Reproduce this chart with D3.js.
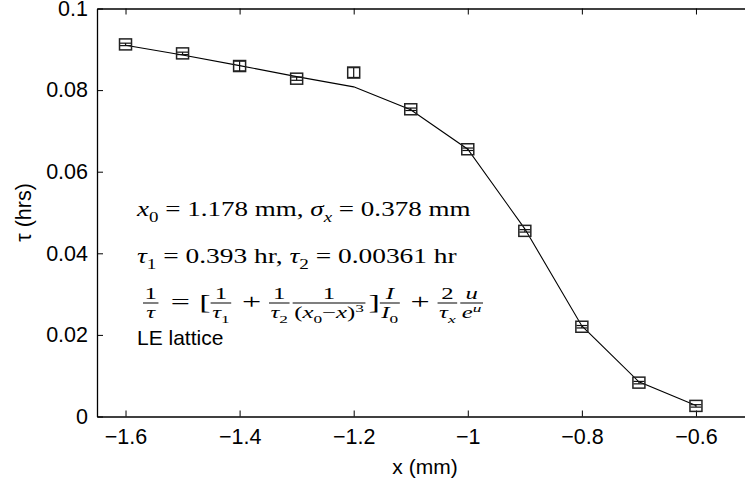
<!DOCTYPE html>
<html>
<head>
<meta charset="utf-8">
<script src="https://cdn.jsdelivr.net/npm/d3@7"></script>
<style>
  body { margin: 0; background: #fff; }
  svg { display: block; }
  text { white-space: pre; }
</style>
</head>
<body>
<script>
// measured tau vs position, with small error bars, plus fitted curve
const xPos    = [-1.6, -1.5, -1.4, -1.3, -1.2, -1.1, -1.0, -0.9, -0.8, -0.7, -0.6];
const tauMeas = [0.0912, 0.0890, 0.0859, 0.0828, 0.0843, 0.0753, 0.0655, 0.0455, 0.0220, 0.0083, 0.0026];
const tauErr  = [0.0003, 0.0003, 0.0012, 0.0004, 0.0012, 0.0003, 0.0003, 0.0003, 0.0003, 0.0003, 0.0003];
const tauFit  = [0.0910, 0.0886, 0.0860, 0.0833, 0.0808, 0.0752, 0.0655, 0.0460, 0.0222, 0.0085, 0.0027];
const xTicks  = [-1.6, -1.4, -1.2, -1, -0.8, -0.6];
const yTicks  = [0, 0.02, 0.04, 0.06, 0.08, 0.1];

const width = 745, height = 484;
const sans = "'Liberation Sans', Arial, Helvetica, sans-serif";
const serif = "'Liberation Serif', 'Times New Roman', serif";

const x = d3.scaleLinear().domain([-1.65, -0.5]).range([97, 753]);
const y = d3.scaleLinear().domain([0, 0.1]).range([416.5, 8.5]);

const svg = d3.select("body").append("svg")
    .attr("width", width)
    .attr("height", height)
    .attr("viewBox", `0 0 ${width} ${height}`);

const fmt = d => String(d).replace("-", "\u2212");

// axes, ticks pointing inward
svg.append("g")
    .attr("transform", `translate(0,${y(0)})`)
    .call(d3.axisBottom(x).tickValues(xTicks).tickFormat(fmt).tickSizeInner(-6).tickSizeOuter(0).tickPadding(12));
svg.append("g")
    .attr("transform", `translate(0,${y(0.1)})`)
    .call(d3.axisTop(x).tickValues(xTicks).tickFormat("").tickSizeInner(-6).tickSizeOuter(0));
svg.append("g")
    .attr("transform", `translate(${x(-1.65)},0)`)
    .call(d3.axisLeft(y).tickValues(yTicks).tickFormat(d => String(d)).tickSizeInner(-6).tickSizeOuter(0).tickPadding(9));
svg.append("g")
    .attr("transform", `translate(${x(-0.5)},0)`)
    .call(d3.axisRight(y).tickValues(yTicks).tickFormat("").tickSizeInner(-6).tickSizeOuter(0));

svg.selectAll(".domain").attr("stroke", "#000").attr("stroke-width", 1.3);
svg.selectAll(".tick line").attr("stroke", "#000").attr("stroke-width", 1);
svg.selectAll(".tick text")
    .attr("font-family", sans)
    .attr("font-size", 21.5)
    .attr("fill", "#000");

// axis labels
svg.append("text")
    .attr("x", (x(-1.65) + x(-0.5)) / 2)
    .attr("y", 474)
    .attr("text-anchor", "middle")
    .attr("font-family", sans)
    .attr("font-size", 21)
    .text("x (mm)");
svg.append("text")
    .attr("transform", `translate(31,${(y(0) + y(0.1)) / 2}) rotate(-90)`)
    .attr("text-anchor", "middle")
    .attr("font-family", sans)
    .attr("font-size", 21.5)
    .text("\u03c4 (hrs)");

// fitted curve
const line = d3.line()
    .x((d, i) => x(xPos[i]))
    .y(d => y(d));
svg.append("path")
    .datum(tauFit)
    .attr("d", line)
    .attr("fill", "none")
    .attr("stroke", "#000")
    .attr("stroke-width", 1.1);

// measured points with error bars
const pts = svg.append("g")
  .selectAll("g")
  .data(tauMeas)
  .join("g");

pts.append("line")
    .attr("x1", (d, i) => x(xPos[i]))
    .attr("x2", (d, i) => x(xPos[i]))
    .attr("y1", (d, i) => y(d - tauErr[i]))
    .attr("y2", (d, i) => y(d + tauErr[i]))
    .attr("stroke", "#111").attr("stroke-width", 1.2);
[-1, 1].forEach(s => {
  pts.append("line")
      .attr("x1", (d, i) => x(xPos[i]) - 5.5)
      .attr("x2", (d, i) => x(xPos[i]) + 5.5)
      .attr("y1", (d, i) => y(d + s * tauErr[i]))
      .attr("y2", (d, i) => y(d + s * tauErr[i]))
      .attr("stroke", "#111").attr("stroke-width", 1.2);
});
pts.append("rect")
    .attr("x", (d, i) => x(xPos[i]) - 6)
    .attr("y", d => y(d) - 5.5)
    .attr("width", 12)
    .attr("height", 11)
    .attr("fill", "none")
    .attr("stroke", "#222")
    .attr("stroke-width", 1.5);

// --- annotation text (LaTeX-like) ---
function rich(g, parts, size) {
  const t = g.append("text")
      .attr("font-family", serif)
      .attr("font-size", size)
      .attr("fill", "#000");
  let shift = 0;
  parts.forEach(p => {
    const s = t.append("tspan").text(p.t);
    if (p.i) s.attr("font-style", "italic");
    const target = p.sub ? size * 0.3 : p.sup ? -size * 0.4 : 0;
    if (p.sub || p.sup) s.attr("font-size", size * 0.7);
    if (target !== shift) { s.attr("dy", target - shift); shift = target; }
  });
  return t;
}

function fitWidth(g, x0, target) {
  const w = g.node().getBBox().width;
  const k = target / w;
  g.attr("transform", `translate(${x0},0) scale(${k},1) translate(${-x0},0)`);
}

const ann = svg.append("g");

const l1 = ann.append("g");
rich(l1, [
  {t: "x", i: 1}, {t: "0", sub: 1}, {t: " = 1.178 mm, "},
  {t: "\u03c3", i: 1}, {t: "x", i: 1, sub: 1}, {t: " = 0.378 mm"}
], 20.5).attr("x", 137).attr("y", 216);
fitWidth(l1, 137, 335);

const l2 = ann.append("g");
rich(l2, [
  {t: "\u03c4", i: 1}, {t: "1", sub: 1}, {t: " = 0.393 hr, "},
  {t: "\u03c4", i: 1}, {t: "2", sub: 1}, {t: " = 0.00361 hr"}
], 20.5).attr("x", 137).attr("y", 263);
fitWidth(l2, 137, 320);

// formula line
const fg = ann.append("g");
const axisY = 303;
let cx = 143;
function op(str, size, gap, italic) {
  const t = fg.append("text")
      .attr("x", cx + gap)
      .attr("y", axisY + 6.5)
      .attr("font-family", serif)
      .attr("font-size", size)
      .attr("font-style", italic ? "italic" : "normal")
      .text(str);
  cx += gap + t.node().getComputedTextLength() + gap;
}
function frac(num, den) {
  const n = rich(fg, num, 16);
  const d = rich(fg, den, 16);
  const w = Math.max(n.node().getComputedTextLength(), d.node().getComputedTextLength()) + 2;
  n.attr("x", cx + w / 2).attr("y", axisY - 4).attr("text-anchor", "middle");
  d.attr("x", cx + w / 2).attr("y", axisY + 15).attr("text-anchor", "middle");
  fg.append("line")
      .attr("x1", cx).attr("x2", cx + w)
      .attr("y1", axisY).attr("y2", axisY)
      .attr("stroke", "#000").attr("stroke-width", 1);
  cx += w + 2;
}
frac([{t: "1"}], [{t: "\u03c4", i: 1}]);
op("=", 22, 6);
op("[", 22, 0);
frac([{t: "1"}], [{t: "\u03c4", i: 1}, {t: "1", sub: 1}]);
op("+", 22, 5);
frac([{t: "1"}], [{t: "\u03c4", i: 1}, {t: "2", sub: 1}]);
frac([{t: "1"}], [{t: "("}, {t: "x", i: 1}, {t: "0", sub: 1}, {t: "\u2212"}, {t: "x", i: 1}, {t: ")"}, {t: "3", sup: 1}]);
op("]", 22, 0);
frac([{t: "I", i: 1}], [{t: "I", i: 1}, {t: "0", sub: 1}]);
op("+", 22, 5);
frac([{t: "2"}], [{t: "\u03c4", i: 1}, {t: "x", i: 1, sub: 1}]);
frac([{t: "u", i: 1}], [{t: "e", i: 1}, {t: "u", i: 1, sup: 1}]);
fitWidth(fg, 143, 340);

ann.append("text")
    .attr("x", 137)
    .attr("y", 345)
    .attr("font-family", sans)
    .attr("font-size", 21)
    .text("LE lattice");
</script>
</body>
</html>
